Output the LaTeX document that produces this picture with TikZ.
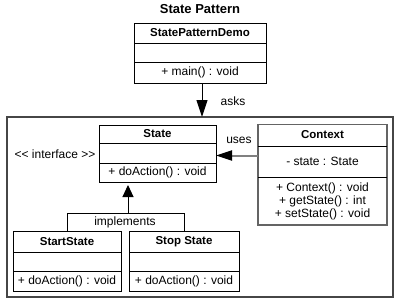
\documentclass[tikz,border=0pt]{standalone}
\usepackage{fontspec}
\setmainfont{Liberation Sans}
\usetikzlibrary{arrows.meta}
\begin{document}
\begin{tikzpicture}[x=1pt,y=-1pt,
  classbox/.style={draw=black,line width=0.9pt,fill=white,inner sep=0pt,outer sep=0pt},
  ctxbox/.style={draw={rgb,255:red,100;green,100;blue,100},line width=1.6pt,fill=white,inner sep=0pt,outer sep=0pt},
  divider/.style={draw=black,line width=0.8pt},
  cname/.style={font=\fontsize{11.5}{13}\selectfont\bfseries,inner sep=0pt},
  member/.style={font=\fontsize{12}{13}\selectfont,inner sep=0pt,align=center},
  lbl/.style={font=\fontsize{12}{13}\selectfont,inner sep=0pt},
  frame/.style={draw={rgb,255:red,70;green,70;blue,70},line width=1.5pt,inner sep=0pt,outer sep=0pt},
  asksarrow/.style={draw=black,line width=1pt,-{Triangle[length=17pt,width=11pt]}},
  usesarrow/.style={draw={rgb,255:red,128;green,128;blue,128},line width=2pt,-{Triangle[length=16pt,width=10pt,color=black]}},
  implarrow/.style={draw=black,line width=1pt,-{Triangle[length=12pt,width=11pt]},shorten >=3pt},
  bracket/.style={draw=black,line width=0.9pt}]
\useasboundingbox (0,0) rectangle (400,300);

% title
\node[font=\fontsize{13}{15}\selectfont\bfseries,inner sep=0pt] (title) at (200,9) {State Pattern};

% client class
\node[classbox,minimum width=132pt,minimum height=60pt] (demo) at (200,53) {};
\draw[divider] ([yshift=-20pt]demo.north west) -- ([yshift=-20pt]demo.north east);
\draw[divider] ([yshift=-39pt]demo.north west) -- ([yshift=-39pt]demo.north east);
\node[cname] (demoname) at (200,33) {StatePatternDemo};
\node[member] (demoops) at (200,72.5) {+ main() : void};

% package frame
\node[frame,minimum width=386pt,minimum height=180pt] (pkg) at (200,207) {};

% asks
\draw[asksarrow] ([xshift=2pt]demo.south) -- ([xshift=2pt]demo.south |- pkg.north);
\node[lbl] (asks) at (233,101) {asks};

% State interface
\node[classbox,minimum width=117pt,minimum height=57pt] (state) at (157.5,153.5) {};
\draw[divider] ([yshift=-18.5pt]state.north west) -- ([yshift=-18.5pt]state.north east);
\node[cname] (statename) at (157.5,134) {State};
\draw[divider] ([yshift=-38pt]state.north west) -- ([yshift=-38pt]state.north east);
\node[member] (stateops) at (157.5,172.5) {+ doAction() : void};
\node[lbl] (iface) at (55,154) {{<}{<} interface {>}{>}};

% Context class
\node[ctxbox,minimum width=129pt,minimum height=100.5pt] (context) at (322.5,174.75) {};
\draw[divider] ([yshift=-21.5pt]context.north west) -- ([yshift=-21.5pt]context.north east);
\draw[divider] ([yshift=-52.5pt]context.north west) -- ([yshift=-52.5pt]context.north east);
\node[cname] (contextname) at (322.5,135) {Context};
\node[member] (contextattr) at (322.5,161.5) {- state : State};
\node[member] (contextops) at (322.5,201) {+ Context() : void\\+ getState() : int\\+ setState() : void};

% uses
\coordinate (usesrow) at (237,155.5);
\draw[usesarrow] (usesrow -| context.west) -- (usesrow -| state.east);
\node[lbl] (uses) at (239,140) {uses};

% concrete states
\node[classbox,minimum width=108pt,minimum height=60pt] (start) at (67,261) {};
\draw[divider] ([yshift=-21pt]start.north west) -- ([yshift=-21pt]start.north east);
\draw[divider] ([yshift=-40pt]start.north west) -- ([yshift=-40pt]start.north east);
\node[cname] (startname) at (67,241.5) {StartState};
\node[member] (startops) at (67,281) {+ doAction() : void};

\node[classbox,minimum width=110pt,minimum height=60pt] (stop) at (184,261) {};
\draw[divider] ([yshift=-21pt]stop.north west) -- ([yshift=-21pt]stop.north east);
\draw[divider] ([yshift=-40pt]stop.north west) -- ([yshift=-40pt]stop.north east);
\node[cname] (stopname) at (184,241.5) {Stop State};
\node[member] (stopops) at (184,281) {+ doAction() : void};

% implements
\coordinate (hub) at (128,213);
\draw[implarrow] (hub) -- (hub |- state.south);
\draw[bracket] (start.north) -- (start.north |- hub) -- (stop.north |- hub) -- (stop.north);
\node[lbl] (impl) at (125,222.5) {implements};
\end{tikzpicture}
\end{document}
